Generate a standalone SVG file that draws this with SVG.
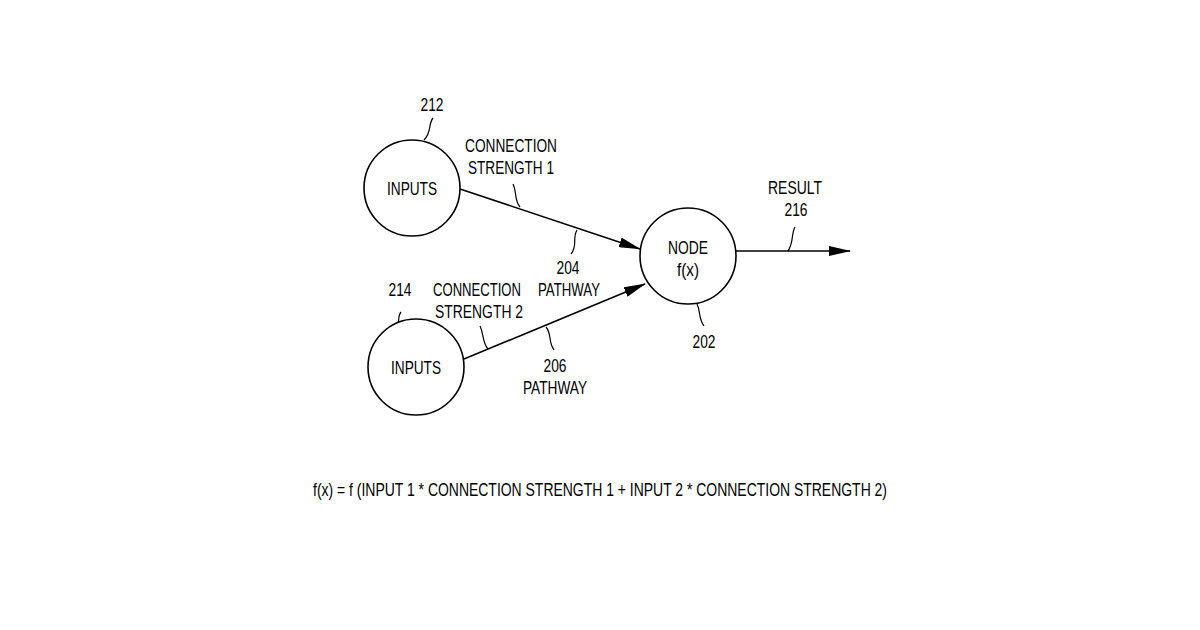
<svg xmlns="http://www.w3.org/2000/svg" width="1200" height="630" viewBox="0 0 1200 630">
<defs>
<marker id="ah" markerWidth="22" markerHeight="10" refX="21" refY="5" orient="auto" markerUnits="userSpaceOnUse"><path d="M0,0 L22,5 L0,10 Z" fill="#000"/></marker>
</defs>
<style>
text{font-family:"Liberation Sans Narrow","Liberation Sans",Arial,sans-serif;font-size:18px;fill:#000;text-anchor:middle}
circle{fill:#fff;stroke:#000;stroke-width:1.6}
.c{fill:none;stroke:#000;stroke-width:1.6}
.l{fill:none;stroke:#000;stroke-width:1.2}
</style>
<rect width="1200" height="630" fill="#fff"/>
<g id="connectors">
<line class="c" x1="460" y1="189" x2="640" y2="249" marker-end="url(#ah)"/>
<line class="c" x1="464" y1="359" x2="645" y2="284" marker-end="url(#ah)"/>
<line class="c" x1="736" y1="251" x2="850" y2="251" marker-end="url(#ah)"/>
</g>
<g id="leaders">
<path class="l" d="M433,118 C428,124 432,132 424,140"/>
<path class="l" d="M513,184 C517,192 514,200 520,207"/>
<path class="l" d="M577,230 C572,238 578,246 571,254"/>
<path class="l" d="M401,312 C396,318 402,326 393,333"/>
<path class="l" d="M480,326 C484,334 482,342 488,349"/>
<path class="l" d="M546,327 C552,334 548,342 554,350"/>
<path class="l" d="M697,304 C701,312 698,318 704,326"/>
<path class="l" d="M795,227 C791,234 794,242 788,251"/>
</g>
<g id="node-212"><circle cx="412" cy="188" r="48"/><text x="412" y="195" textLength="50" lengthAdjust="spacingAndGlyphs">INPUTS</text><text x="432" y="111" textLength="23" lengthAdjust="spacingAndGlyphs">212</text></g>
<g id="node-214"><circle cx="416" cy="367" r="48"/><text x="416" y="374" textLength="50" lengthAdjust="spacingAndGlyphs">INPUTS</text><text x="400" y="296" textLength="23" lengthAdjust="spacingAndGlyphs">214</text></g>
<g id="node-202"><circle cx="688" cy="256" r="48"/><text x="688" y="254" textLength="40" lengthAdjust="spacingAndGlyphs">NODE</text><text x="688" y="276" textLength="22" lengthAdjust="spacingAndGlyphs">f(x)</text><text x="704" y="348" textLength="23" lengthAdjust="spacingAndGlyphs">202</text></g>
<g id="labels">
<text x="511" y="152" textLength="92" lengthAdjust="spacingAndGlyphs">CONNECTION</text>
<text x="511" y="174" textLength="86" lengthAdjust="spacingAndGlyphs">STRENGTH 1</text>
<text x="568" y="274" textLength="23" lengthAdjust="spacingAndGlyphs">204</text>
<text x="569" y="296" textLength="62" lengthAdjust="spacingAndGlyphs">PATHWAY</text>
<text x="477" y="296" textLength="88" lengthAdjust="spacingAndGlyphs">CONNECTION</text>
<text x="479" y="318" textLength="88" lengthAdjust="spacingAndGlyphs">STRENGTH 2</text>
<text x="555" y="372" textLength="23" lengthAdjust="spacingAndGlyphs">206</text>
<text x="555" y="394" textLength="64" lengthAdjust="spacingAndGlyphs">PATHWAY</text>
<text x="795" y="194" textLength="54" lengthAdjust="spacingAndGlyphs">RESULT</text>
<text x="796" y="216" textLength="23" lengthAdjust="spacingAndGlyphs">216</text>
<text x="600" y="496" textLength="574" lengthAdjust="spacingAndGlyphs">f(x) = f (INPUT 1 * CONNECTION STRENGTH 1 + INPUT 2 * CONNECTION STRENGTH 2)</text>
</g>
</svg>
